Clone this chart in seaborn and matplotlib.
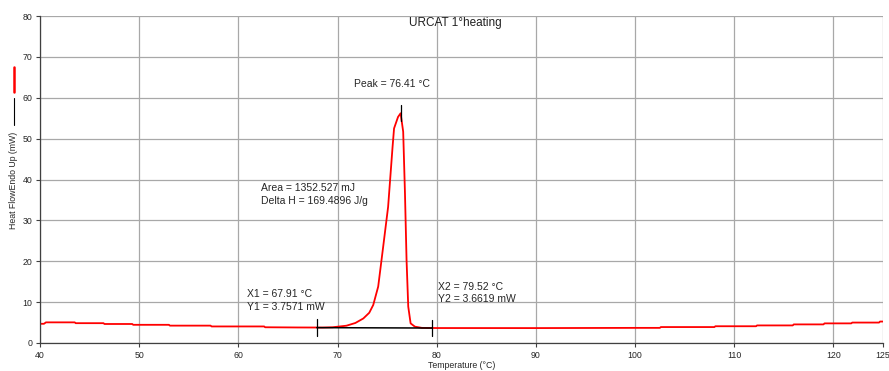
import numpy as np
import pandas as pd
import matplotlib
matplotlib.use("Agg")
import matplotlib.pyplot as plt
import seaborn as sns

# --- data ---
temperature = [40.0, 40.4, 40.6, 43.5, 43.6, 46.4, 46.5, 49.3, 49.4, 53.0, 53.1,
               57.2, 57.3, 62.6, 62.7, 66.0, 68.5, 69.5, 70.9, 71.8, 72.6, 73.2,
               73.6, 74.1, 74.6, 75.1, 75.55, 75.7, 76.1, 76.36, 76.62, 76.8,
               76.96, 77.13, 77.37, 77.8, 78.5, 80.0, 90.0, 100.0, 102.5, 102.6,
               108.0, 108.1, 112.2, 112.3, 115.9, 116.0, 119.0, 119.1, 121.8,
               121.9, 124.6, 124.7, 125.0]
heat_flow = [4.7, 4.7, 5.05, 5.05, 4.85, 4.85, 4.65, 4.65, 4.45, 4.45, 4.25,
             4.25, 4.05, 4.05, 3.85, 3.8, 3.78, 3.85, 4.23, 4.9, 6.0, 7.4,
             9.3, 13.8, 23.5, 33.3, 48.0, 52.5, 55.3, 56.2, 51.7, 36.6,
             20.3, 8.9, 4.8, 4.0, 3.7, 3.66, 3.65, 3.7, 3.7, 3.9,
             3.9, 4.1, 4.1, 4.3, 4.3, 4.55, 4.55, 4.8, 4.8,
             5.0, 5.0, 5.25, 5.25]

x_ticks = [40, 50, 60, 70, 80, 90, 100, 110, 120, 125]
y_ticks = [0, 10, 20, 30, 40, 50, 60, 70, 80]

title = "URCAT 1°heating"
peak_temp = 76.41
peak_label = "Peak = 76.41 °C"
area_label = "Area = 1352.527 mJ"
dh_label = "Delta H = 169.4896 J/g"
x1, y1 = 67.91, 3.7571
x2, y2 = 79.52, 3.6619
x1_label, y1_label = "X1 = 67.91 °C", "Y1 = 3.7571 mW"
x2_label, y2_label = "X2 = 79.52 °C", "Y2 = 3.6619 mW"

df = pd.DataFrame({"Temperature": temperature, "HeatFlow": heat_flow})

sns.set_style("white")
plt.rcParams["font.family"] = ["Liberation Sans", "DejaVu Sans"]

fig = plt.figure(figsize=(8.89, 3.71), dpi=100)
ax = fig.add_axes([40 / 889, 28 / 371, 843 / 889, 327 / 371])

sns.lineplot(data=df, x="Temperature", y="HeatFlow", ax=ax, color="#ff0000",
             linewidth=1.3, sort=False, legend=False)

# baseline with end ticks
ax.plot([x1, x2], [y1, y2], color="black", lw=1.1, zorder=4)
for xv, yv in [(x1, y1), (x2, y2)]:
    ax.plot([xv, xv], [yv - 2.0, yv + 2.0], color="black", lw=0.9, zorder=4)
# peak marker
ax.plot([peak_temp, peak_temp], [54.3, 58.3], color="black", lw=0.9, zorder=4)

ax.set_xlim(40, 125)
ax.set_ylim(0, 80)
ax.set_xticks(x_ticks)
ax.set_yticks(y_ticks)
ax.grid(True, color="#a8a8a8", linewidth=0.9)
ax.set_axisbelow(True)
for s in ["top", "right"]:
    ax.spines[s].set_visible(False)
for s in ["left", "bottom"]:
    ax.spines[s].set_color("#404040")
    ax.spines[s].set_linewidth(0.9)
ax.tick_params(axis="both", labelsize=6.3, length=3, width=0.8, color="#404040",
               pad=2.5, direction="out", left=True, bottom=True)
ax.set_xlabel("Temperature (°C)", fontsize=6.3, labelpad=1)
ax.set_ylabel("")

fs = 7.5
ax.text(81.84, 78.3, title, ha="center", va="center", fontsize=8.5, color="#202020")
ax.text(75.49, 63.4, peak_label, ha="center", va="center", fontsize=fs)
ax.text(62.28, 37.9, area_label, ha="left", va="center", fontsize=fs)
ax.text(62.28, 34.7, dh_label, ha="left", va="center", fontsize=fs)
ax.text(60.87, 12.0, x1_label, ha="left", va="center", fontsize=fs)
ax.text(60.87, 8.8, y1_label, ha="left", va="center", fontsize=fs)
ax.text(80.13, 13.7, x2_label, ha="left", va="center", fontsize=fs)
ax.text(80.13, 10.7, y2_label, ha="left", va="center", fontsize=fs)

# y label with legend swatches
fig.text(14 / 889, 1 - 180 / 371, "Heat FlowEndo Up (mW)", rotation=90,
         ha="center", va="center", fontsize=6.3)
fig.add_artist(plt.Line2D([14 / 889, 14 / 889], [1 - 67 / 371, 1 - 92 / 371],
                          color="#ff0000", lw=1.8))
fig.add_artist(plt.Line2D([14 / 889, 14 / 889], [1 - 98 / 371, 1 - 125 / 371],
                          color="black", lw=0.8))

fig.savefig("out.png", dpi=100)
